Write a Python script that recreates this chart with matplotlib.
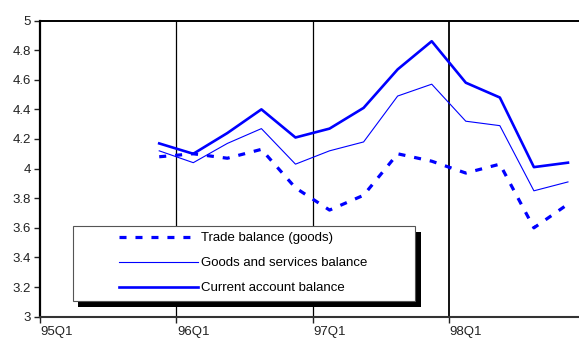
import matplotlib.pyplot as plt
import numpy as np
import matplotlib as mpl
from matplotlib.patches import Rectangle

mpl.rcParams['font.family'] = ['Liberation Sans', 'DejaVu Sans']

# quarterly series, 95Q4 .. 98Q4 (categories 95Q1 .. 98Q4)
quarters = ['95Q1', '95Q2', '95Q3', '95Q4', '96Q1', '96Q2', '96Q3', '96Q4',
            '97Q1', '97Q2', '97Q3', '97Q4', '98Q1', '98Q2', '98Q3', '98Q4']
first_idx = 3
trade_goods = [4.08, 4.10, 4.07, 4.13, 3.87, 3.72, 3.82, 4.10, 4.05, 3.97, 4.03, 3.60, 3.76]
goods_services = [4.12, 4.04, 4.17, 4.27, 4.03, 4.12, 4.18, 4.49, 4.57, 4.32, 4.29, 3.85, 3.91]
current_account = [4.17, 4.10, 4.24, 4.40, 4.21, 4.27, 4.41, 4.67, 4.86, 4.58, 4.48, 4.01, 4.04]
year_labels = ['95Q1', '96Q1', '97Q1', '98Q1']

W, H = 579, 343
fig = plt.figure(figsize=(W / 100, H / 100), dpi=100)
ax = fig.add_axes([40 / W, 26.3 / H, 545 / W, 296.2 / H])

blue = (0, 0, 1)
x = np.arange(first_idx, first_idx + len(trade_goods)) + 0.5

ax.plot(x, trade_goods, color=blue, linewidth=2.3, linestyle=(0, (2.2, 2.8)),
        label='Trade balance (goods)', zorder=3)
ax.plot(x, goods_services, color=blue, linewidth=0.8,
        label='Goods and services balance', zorder=3)
ax.plot(x, current_account, color=blue, linewidth=1.9,
        label='Current account balance', zorder=3)

# year separators
for pos, lw in zip([4, 8, 12], [0.9, 0.9, 1.3]):
    ax.axvline(pos, color='black', linewidth=lw, zorder=1)

ax.set_xlim(0, len(quarters))
ax.set_ylim(3, 5)
ax.set_yticks(np.arange(3, 5.01, 0.2))
ax.set_yticklabels(['{:g}'.format(round(v, 1)) for v in np.arange(3, 5.01, 0.2)])
ax.set_xticks([0, 4, 8, 12])
ax.set_xticklabels([])
ax.set_xticks([quarters.index(q) + 0.5 for q in year_labels], minor=True)
ax.set_xticklabels(year_labels, minor=True)

ax.tick_params(axis='y', direction='out', length=4, width=1, pad=2.5,
               labelsize=9.5, colors='#222222')
ax.tick_params(axis='x', which='major', direction='out', length=4, width=1, color='#222222')
ax.tick_params(axis='x', which='minor', length=0, pad=6.5, labelsize=9.5, labelcolor='#222222')

ax.spines['left'].set_linewidth(1.6)
ax.spines['left'].set_color('black')
ax.spines['bottom'].set_linewidth(1.5)
ax.spines['bottom'].set_color('#333333')
ax.spines['top'].set_linewidth(1.4)
ax.spines['right'].set_visible(False)

# legend box with solid black drop shadow
bx0, by_top, bx1, by_bot = 73.3, 226, 415, 301
fig.patches.append(Rectangle(((bx0 + 5) / W, (H - by_bot - 6) / H), (bx1 - bx0 + 1) / W,
                             (by_bot - by_top) / H, transform=fig.transFigure,
                             facecolor='black', edgecolor='none', zorder=4))
fig.patches.append(Rectangle((bx0 / W, (H - by_bot) / H), (bx1 - bx0) / W,
                             (by_bot - by_top) / H, transform=fig.transFigure,
                             facecolor='white', edgecolor='#555555', linewidth=0.8, zorder=5))
for p in fig.patches:
    p.set_clip_on(False)
ax.set_zorder(1)

leg = fig.legend(loc='upper left', bbox_to_anchor=(119 / W, 1 - 232 / H), frameon=False,
                 fontsize=9.5, handlelength=6.0, handletextpad=0.2, labelspacing=0.97,
                 borderpad=0, borderaxespad=0)
leg.set_zorder(6)

fig.savefig('out.png', dpi=100)
